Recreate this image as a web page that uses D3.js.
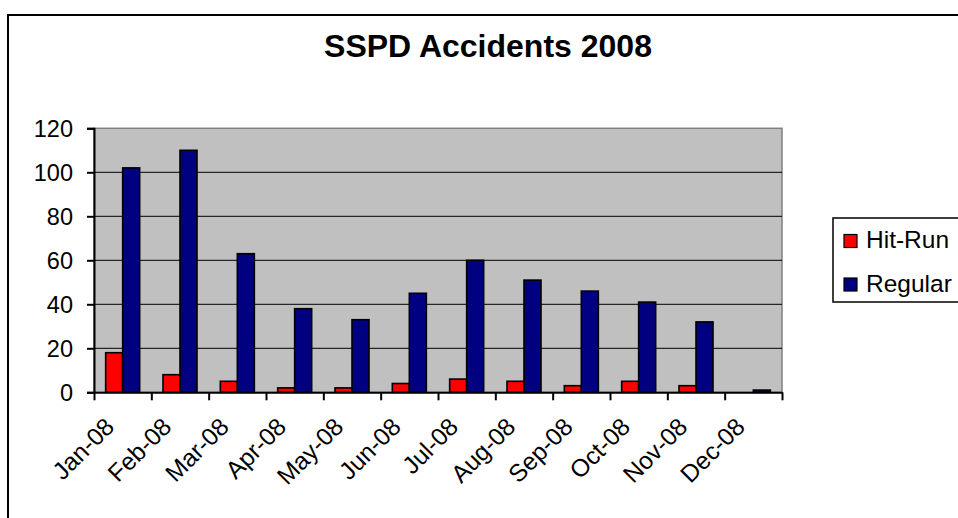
<!DOCTYPE html>
<html>
<head>
<meta charset="utf-8">
<script src="https://cdn.jsdelivr.net/npm/d3@7/dist/d3.min.js"></script>
<style>
  body { margin: 0; background: #fff; }
  text { font-family: "Liberation Sans", Arial, sans-serif; fill: #000; }
</style>
</head>
<body>
<div class="chart"></div>
<script>
var months = ["Jan-08","Feb-08","Mar-08","Apr-08","May-08","Jun-08",
              "Jul-08","Aug-08","Sep-08","Oct-08","Nov-08","Dec-08"]
var seriesNames = ["Hit-Run", "Regular"]
var hitRun  = [18, 8, 5, 2, 2, 4, 6, 5, 3, 5, 3, 0]
var regular = [102, 110, 63, 38, 33, 45, 60, 51, 46, 41, 32, 1]
var yTicks = [0, 20, 40, 60, 80, 100, 120]
var colors = ["#ff0000", "#000080"]

document.addEventListener("DOMContentLoaded", draw)

function draw(){
  var width = 958, height = 518
  var left = 94, right = 782, top = 128.3, bottom = 392.3

  var svg = d3.select(".chart").append("svg")
    .attr("width", width)
    .attr("height", height)

  // outer frame
  svg.append("rect")
    .attr("x", 8).attr("y", 15)
    .attr("width", 960).attr("height", 510)
    .attr("fill", "#fff")
    .attr("stroke", "#000").attr("stroke-width", 2)

  svg.append("text")
    .attr("x", 488).attr("y", 57)
    .attr("text-anchor", "middle")
    .attr("font-size", 32).attr("font-weight", "bold")
    .text("SSPD Accidents 2008")

  var y = d3.scaleLinear().domain([0, 120]).range([bottom, top])
  var x0 = d3.scaleBand().domain(months).range([left, right]).padding(0)
  var x1 = d3.scaleBand().domain(seriesNames).range([0, x0.bandwidth()])
    .paddingInner(0).paddingOuter(0.686)
  var edges = d3.scaleLinear().domain([0, months.length]).range([left, right])

  // plot area
  svg.append("rect")
    .attr("x", left).attr("y", top)
    .attr("width", right - left).attr("height", bottom - top)
    .attr("fill", "#c0c0c0")
    .attr("stroke", "#808080").attr("stroke-width", 1.5)

  svg.append("g").selectAll("line")
    .data(yTicks.filter(function(d){ return d > 0 && d < 120 }))
    .enter().append("line")
    .attr("x1", left).attr("x2", right)
    .attr("y1", y).attr("y2", y)
    .attr("stroke", "#000").attr("stroke-width", 1)

  var data = months.map(function(m, i){ return { month: m, values: [hitRun[i], regular[i]] } })

  var groups = svg.append("g").selectAll("g")
    .data(data)
    .enter().append("g")
    .attr("transform", function(d){ return `translate(${x0(d.month)},0)` })

  groups.selectAll("rect")
    .data(function(d){ return d.values.map(function(v, k){ return { key: seriesNames[k], value: v, k: k } }) })
    .enter().append("rect")
    .attr("x", function(d){ return x1(d.key) })
    .attr("width", x1.bandwidth())
    .attr("y", function(d){ return y(d.value) })
    .attr("height", function(d){ return bottom - y(d.value) })
    .attr("fill", function(d){ return colors[d.k] })
    .attr("stroke", "#000").attr("stroke-width", 1.6)

  // y axis
  var yAxis = svg.append("g")
    .attr("transform", `translate(${left},0)`)
    .call(d3.axisLeft(y).tickValues(yTicks).tickSize(7).tickPadding(14))
  yAxis.select(".domain").attr("stroke", "#000").attr("stroke-width", 2)
  yAxis.selectAll(".tick line").attr("stroke", "#000").attr("stroke-width", 2)
  yAxis.selectAll(".tick text")
    .attr("font-size", 23.5).attr("dy", "0.36em")
    .style("font-family", "Liberation Sans, Arial, sans-serif").attr("fill", "#000")

  // x axis, ticks at the category edges
  var xAxis = svg.append("g")
    .attr("transform", `translate(0,${bottom})`)
    .call(d3.axisBottom(edges).tickValues(d3.range(months.length + 1)).tickFormat("").tickSize(8).tickSizeOuter(0))
  xAxis.select(".domain").attr("stroke", "#000").attr("stroke-width", 2)
  xAxis.selectAll(".tick line").attr("stroke", "#000").attr("stroke-width", 2)

  svg.append("g").selectAll("text")
    .data(months)
    .enter().append("text")
    .attr("text-anchor", "end")
    .attr("font-size", 24.5)
    .attr("transform", function(d){
      return `translate(${x0(d) + x0.bandwidth() / 2 - 7},${bottom + 36}) rotate(-45)`
    })
    .text(function(d){ return d })

  // legend
  var legend = svg.append("g")
  legend.append("rect")
    .attr("x", 833).attr("y", 218)
    .attr("width", 150).attr("height", 84)
    .attr("fill", "#fff")
    .attr("stroke", "#000").attr("stroke-width", 1.5)

  var items = legend.selectAll("g.item")
    .data(seriesNames)
    .enter().append("g")
    .attr("class", "item")
    .attr("transform", function(d, i){ return `translate(844,${234.5 + i * 43.5})` })
  items.append("rect")
    .attr("width", 13).attr("height", 13)
    .attr("fill", function(d, i){ return colors[i] })
    .attr("stroke", "#000").attr("stroke-width", 1.2)
  items.append("text")
    .attr("x", 22).attr("y", 13.5)
    .attr("font-size", 24.5)
    .text(function(d){ return d })
}
</script>
</body>
</html>
